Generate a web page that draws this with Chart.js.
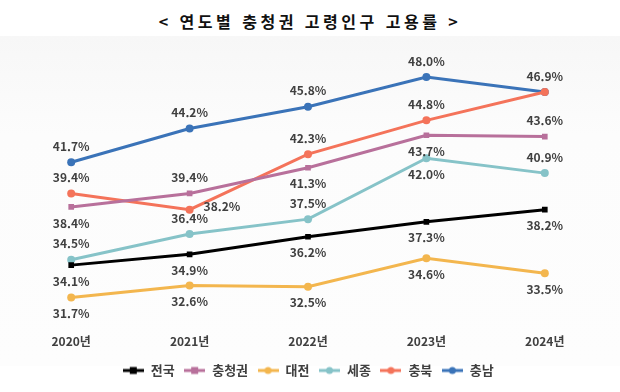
<!DOCTYPE html>
<html lang="ko">
<head>
<meta charset="utf-8">
<script src="https://cdn.jsdelivr.net/npm/chart.js@4"></script>
<style>
    html, body { margin: 0; padding: 0; background: #ffffff; }
    .wrap { position: relative; width: 620px; height: 392px; }
    .band { position: absolute; left: 0; right: 0; top: 36px; height: 330px;
            background: linear-gradient(#f7f7f7, #fcfcfc 30%, #fdfdfd); }
    h1 { position: absolute; top: 9px; left: 0; width: 620px; margin: 0; text-align: center;
         font: bold 16px "Noto Sans CJK KR", sans-serif; color: #111; letter-spacing: 3.5px; }
    canvas { position: absolute; left: 0; top: 0; }
</style>
</head>
<body>
<div class="wrap">
    <div class="band"></div>
    <h1>&lt; 연도별 충청권 고령인구 고용률 &gt;</h1>
    <canvas id="chart" width="620" height="392"></canvas>
</div>
<script>
const years = ['2020년', '2021년', '2022년', '2023년', '2024년'];
const nationwide = [34.1, 34.9, 36.2, 37.3, 38.2];
const chungcheong = [38.4, 39.4, 41.3, 43.7, 43.6];
const daejeon = [31.7, 32.6, 32.5, 34.6, 33.5];
const sejong = [34.5, 36.4, 37.5, 42.0, 40.9];
const chungbuk = [39.4, 38.2, 42.3, 44.8, 46.9];
const chungnam = [41.7, 44.2, 45.8, 48.0, 46.9];

// label placement per point: 'a' above, 'b' below, 'r' right, '' none
const nationwidePos = ['b', 'b', 'b', 'b', 'b'];
const chungcheongPos = ['b', 'a', 'b', 'b', 'a'];
const daejeonPos = ['b', 'b', 'b', 'b', 'b'];
const sejongPos = ['a', 'a', 'a', 'b', 'a'];
const chungbukPos = ['a', 'r', 'a', 'a', ''];
const chungnamPos = ['a', 'a', 'a', 'a', 'a'];

const font = '"Noto Sans CJK KR", "Noto Sans", sans-serif';

function makeSeries(label, data, color, pointStyle, labelPos) {
    return {
        label,
        data,
        borderColor: color,
        backgroundColor: color,
        borderWidth: 3,
        pointStyle,
        pointRadius: 4,
        pointBorderWidth: 0,
        labelPos
    };
}

function legendIcon(color, pointStyle) {
    const c = document.createElement('canvas');
    c.width = 21;
    c.height = 10;
    const ctx = c.getContext('2d');
    ctx.strokeStyle = color;
    ctx.lineWidth = 3;
    ctx.beginPath();
    ctx.moveTo(0, 5);
    ctx.lineTo(21, 5);
    ctx.stroke();
    ctx.fillStyle = color;
    if (pointStyle === 'rect') {
        ctx.fillRect(7, 1.5, 7, 7);
    } else {
        ctx.beginPath();
        ctx.arc(10.5, 5, 3.5, 0, Math.PI * 2);
        ctx.fill();
    }
    return c;
}

const valueLabels = {
    id: 'valueLabels',
    afterDatasetsDraw(chart) {
        const ctx = chart.ctx;
        ctx.save();
        ctx.font = 'bold 12px ' + font;
        ctx.fillStyle = '#404040';
        ctx.textBaseline = 'middle';
        chart.data.datasets.forEach((ds, i) => {
            const meta = chart.getDatasetMeta(i);
            meta.data.forEach((pt, j) => {
                const pos = ds.labelPos[j];
                if (!pos) return;
                const text = ds.data[j].toFixed(1) + '%';
                let x = pt.x;
                let y = pt.y;
                ctx.textAlign = 'center';
                if (pos === 'a') y -= 16;
                else if (pos === 'b') y += 16;
                else if (pos === 'r') { x += 14; y -= 3; ctx.textAlign = 'left'; }
                ctx.fillText(text, x, y);
            });
        });
        ctx.restore();
    }
};

const series = [
    makeSeries('전국', nationwide, '#000000', 'rect', nationwidePos),
    makeSeries('충청권', chungcheong, '#b8709b', 'rect', chungcheongPos),
    makeSeries('대전', daejeon, '#f3b64e', 'circle', daejeonPos),
    makeSeries('세종', sejong, '#86c3c8', 'circle', sejongPos),
    makeSeries('충북', chungbuk, '#f4735a', 'circle', chungbukPos),
    makeSeries('충남', chungnam, '#3a73b8', 'circle', chungnamPos)
];

new Chart(document.getElementById('chart'), {
    type: 'line',
    data: { labels: years, datasets: series },
    plugins: [valueLabels],
    options: {
        responsive: false,
        animation: false,
        layout: { padding: { top: 50, left: 12, right: 16, bottom: 5 } },
        plugins: {
            tooltip: { enabled: false },
            legend: {
                position: 'bottom',
                labels: {
                    color: '#404040',
                    font: { family: font, size: 13, weight: 'bold' },
                    usePointStyle: true,
                    pointStyleWidth: 22,
                    boxWidth: 22,
                    padding: 9,
                    generateLabels(chart) {
                        return chart.data.datasets.map((ds, i) => ({
                            text: ds.label,
                            fillStyle: ds.borderColor,
                            strokeStyle: ds.borderColor,
                            fontColor: '#404040',
                            pointStyle: legendIcon(ds.borderColor, ds.pointStyle),
                            datasetIndex: i,
                            lineWidth: 0
                        }));
                    }
                }
            }
        },
        scales: {
            x: {
                offset: true,
                grid: { display: false },
                border: { display: false },
                ticks: {
                    color: '#404040',
                    padding: 6,
                    font: { family: font, size: 12, weight: 'bold' }
                }
            },
            y: {
                display: false,
                min: 30,
                max: 50
            }
        }
    }
});
</script>
</body>
</html>
